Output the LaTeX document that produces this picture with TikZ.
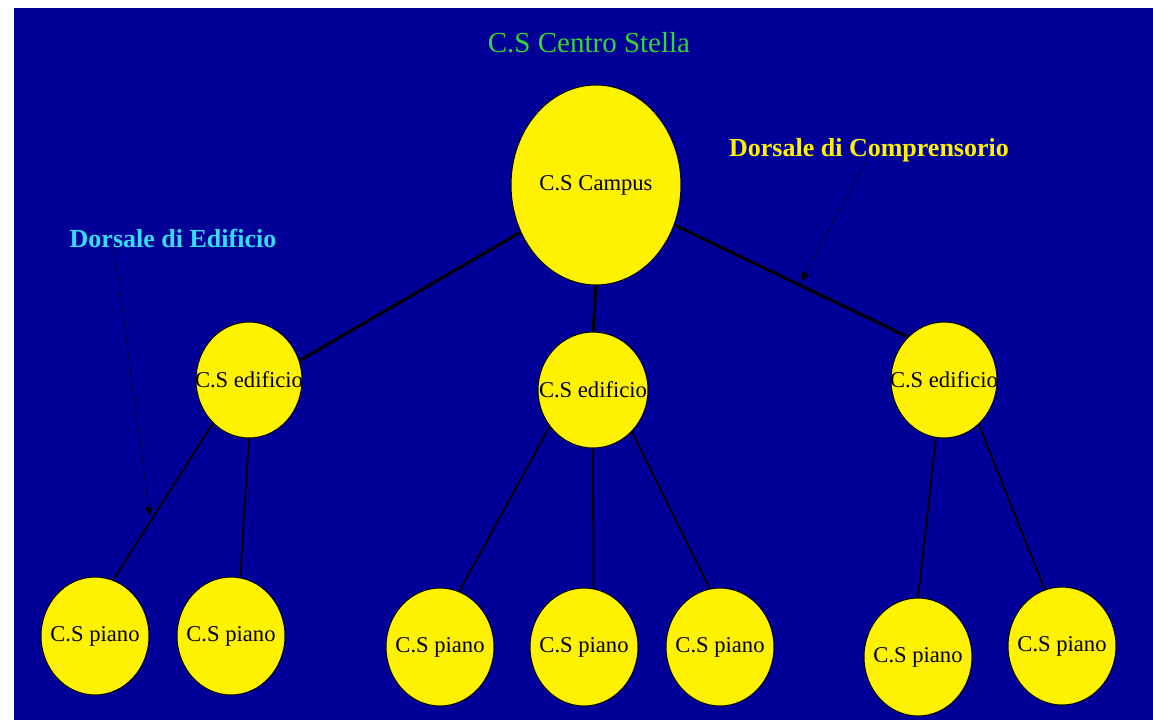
\documentclass[tikz,border=0pt]{standalone}
\usepackage{fontspec}
\setmainfont{Liberation Serif}
\usetikzlibrary{shapes.geometric,arrows.meta}
\definecolor{bgblue}{RGB}{0,0,153}
\definecolor{titlegreen}{RGB}{51,214,51}
\definecolor{labelcyan}{RGB}{51,221,255}
\begin{document}
\begin{tikzpicture}[x=0.5pt,y=-0.5pt,
  bubble/.style={ellipse,draw=black,line width=0.5pt,fill=yellow,inner sep=0pt},
  every label/.style={font=\fontsize{11.3}{13}\selectfont,text=black},
  trunk/.style={line width=1.5pt},
  branch/.style={line width=0.9pt},
  annot/.style={-{Latex[length=5pt,width=4pt]},line width=0.6pt,densely dotted}]
\useasboundingbox (0,0) rectangle (1153,720);
\fill[bgblue] (14,8) rectangle (1153,720);
%\draw[gray] (0,0) grid[step=50] (1153,720);
\node[font=\fontsize{14.5}{17}\selectfont,text=titlegreen] (title) at (589,43) {C.S Centro Stella};
\node[font=\bfseries\fontsize{13}{15}\selectfont,text=labelcyan] (lblE) at (173,238) {Dorsale di Edificio};
\node[font=\bfseries\fontsize{13}{15}\selectfont,text=yellow] (lblC) at (869,150) {Dorsale di Comprensorio};
% centri stella
\node[bubble,minimum width=85pt,minimum height=100pt,label=center:{C.S Campus}] (camp) at (596,185) {};
\node[bubble,minimum width=53pt,minimum height=58pt,label=center:{C.S edificio}] (e1) at (249,380) {};
\node[bubble,minimum width=55pt,minimum height=58pt,label=center:{C.S edificio}] (e2) at (593,390) {};
\node[bubble,minimum width=53pt,minimum height=58pt,label=center:{C.S edificio}] (e3) at (944,380) {};
\node[bubble,minimum width=54pt,minimum height=59pt,label=center:{C.S piano}] (p1) at (95,636) {};
\node[bubble,minimum width=54pt,minimum height=59pt,label=center:{C.S piano}] (p2) at (231,636) {};
\node[bubble,minimum width=54pt,minimum height=59pt,label=center:{C.S piano}] (p3) at (440,647) {};
\node[bubble,minimum width=54pt,minimum height=59pt,label=center:{C.S piano}] (p4) at (584,647) {};
\node[bubble,minimum width=54pt,minimum height=59pt,label=center:{C.S piano}] (p5) at (720,647) {};
\node[bubble,minimum width=54pt,minimum height=59pt,label=center:{C.S piano}] (p6) at (918,657) {};
\node[bubble,minimum width=54pt,minimum height=59pt,label=center:{C.S piano}] (p7) at (1062,646) {};
% dorsale di comprensorio
\draw[trunk] (camp.212) -- (e1.21);
\draw[trunk] (camp.south) -- (e2.north);
\draw[trunk] (camp.333) -- (e3.130);
% dorsali di edificio
\draw[branch] (e1.230) -- (p1.72);
\draw[branch] (e1.270) -- (p2.81);
\draw[branch] (e2.220) -- (p3.71);
\draw[branch] (e2.270) -- (p4.81);
\draw[branch] (e2.313) -- (p5.100);
\draw[branch] (e3.262) -- (p6.90);
\draw[branch] (e3.308) -- (p7.107);
% frecce
\coordinate (tailE) at (114,247);
\coordinate (tipE) at (150,517);
\coordinate (tailC) at (865,163);
\coordinate (tipC) at (801,282);
\draw[annot] (tailE) -- (tipE);
\draw[annot] (tailC) -- (tipC);
\end{tikzpicture}
\end{document}
